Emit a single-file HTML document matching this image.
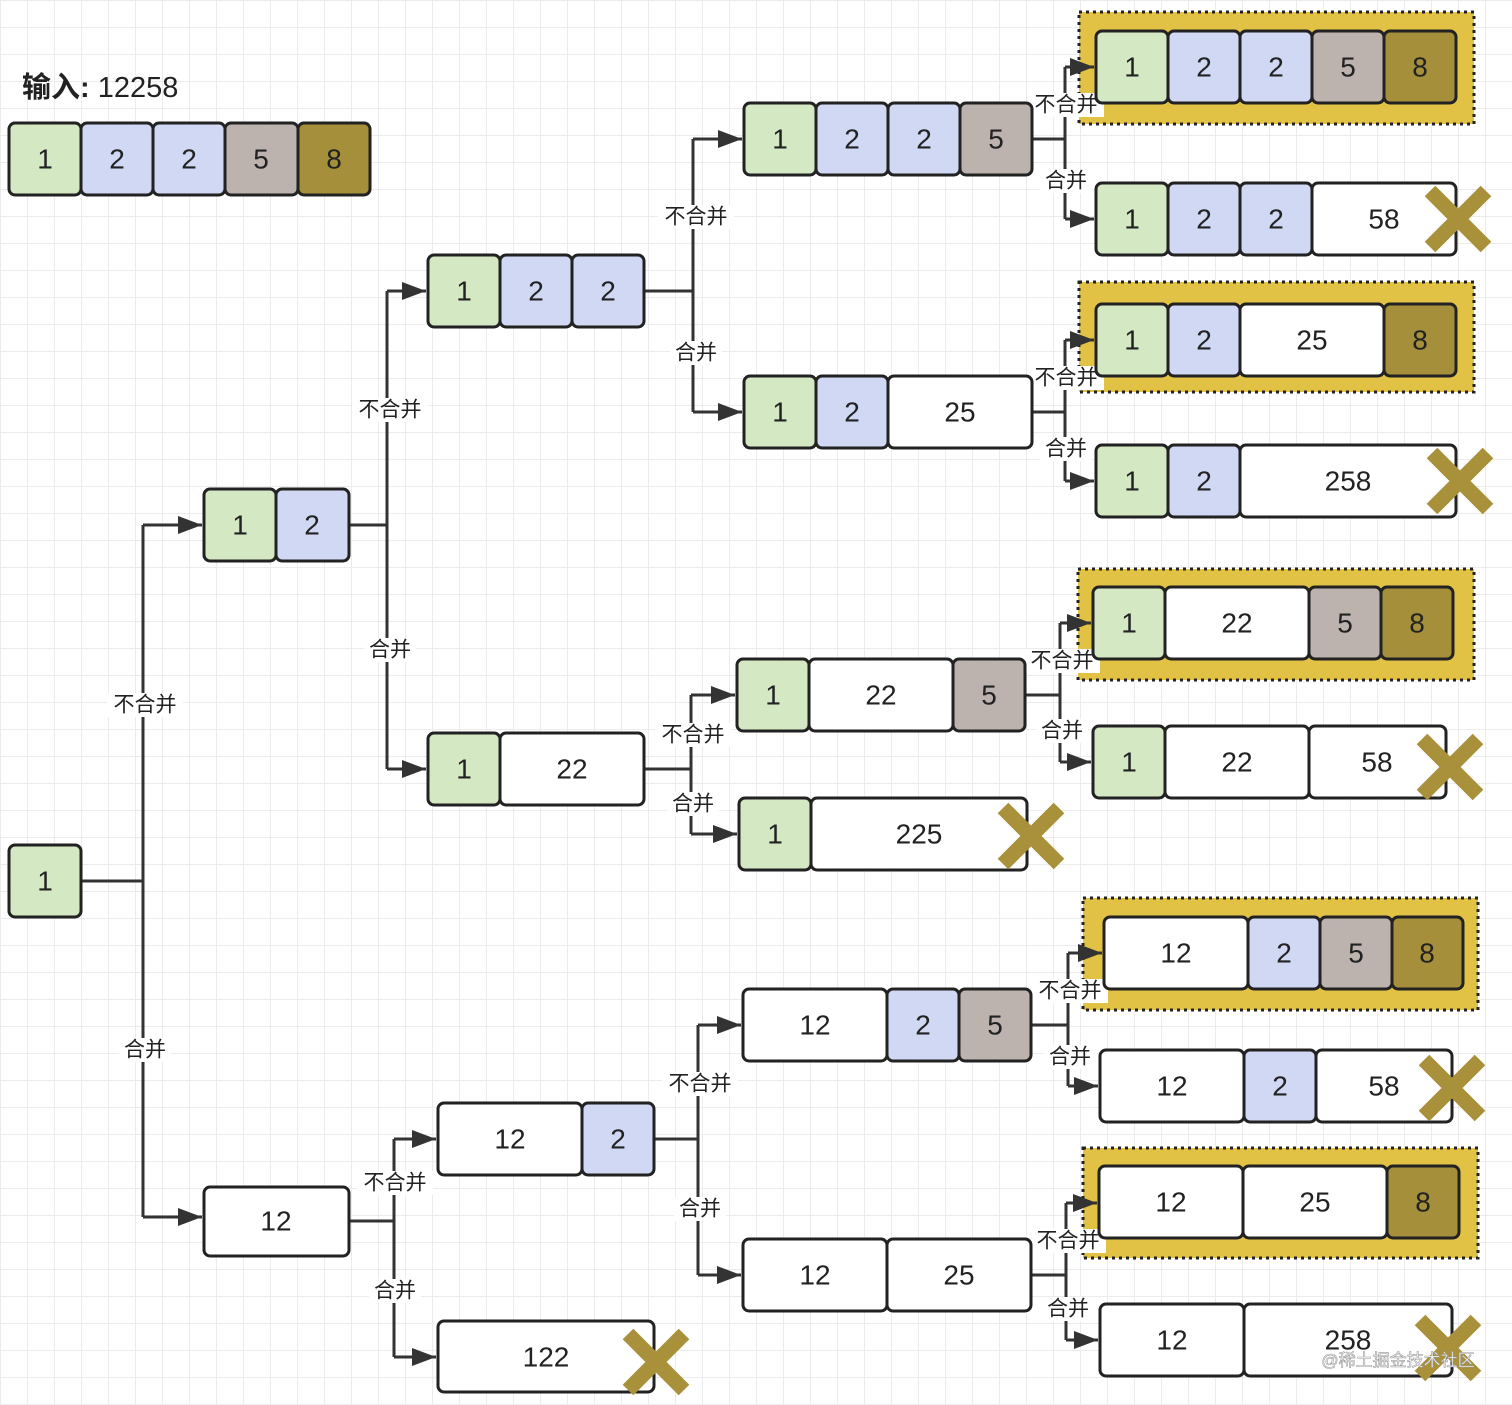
<!DOCTYPE html>
<html><head><meta charset="utf-8"><style>
html,body{margin:0;padding:0}
body{width:1512px;height:1405px;background-color:#fff;background-image:linear-gradient(#ececec 1px,transparent 1px),linear-gradient(90deg,#ececec 1px,transparent 1px);background-size:27px 27px;overflow:hidden}
svg{position:absolute;left:0;top:0}
.c{stroke:#222;stroke-width:3}
.g{fill:#d5e8c4}.b{fill:#d0d8f4}.s{fill:#bcb3ae}.o{fill:#a68f3a}.w{fill:#fff}
.n{font-family:"Liberation Sans",sans-serif;font-size:28px;fill:#222;text-anchor:middle;dominant-baseline:central}
.l{font-family:"Liberation Sans","Noto Sans CJK SC",sans-serif;font-size:21px;fill:#222;text-anchor:middle;dominant-baseline:central}
.lb{fill:#fff}
.e{fill:none;stroke:#333;stroke-width:3}
.x{stroke:#a8913a;stroke-width:15}
.h{fill:#e2c245;stroke:#222;stroke-width:3;stroke-dasharray:3 4}
</style></head><body>
<svg width="1512" height="1405" xmlns="http://www.w3.org/2000/svg">
<defs><marker id="a" markerWidth="8" markerHeight="8" refX="7" refY="4" orient="auto" markerUnits="userSpaceOnUse"><path d="M0,0 L8,4 L0,8z" fill="#333"/></marker>
<marker id="A" viewBox="0 0 10 10" markerWidth="24" markerHeight="18" refX="10" refY="5" orient="auto" markerUnits="userSpaceOnUse" preserveAspectRatio="none"><path d="M0,0 L10,5 L0,10z" fill="#333"/></marker></defs>

<!-- highlights -->
<rect class="h" x="1079" y="12" width="395" height="112"/>
<rect class="h" x="1079" y="282" width="395" height="110"/>
<rect class="h" x="1078" y="569" width="396" height="111"/>
<rect class="h" x="1083" y="898" width="395" height="112"/>
<rect class="h" x="1083" y="1148" width="395" height="110"/>

<!-- connectors -->
<g class="e">
<path d="M81,881H143M143,525V1217"/><path d="M143,525H202" marker-end="url(#A)"/><path d="M143,1217H202" marker-end="url(#A)"/>
<path d="M349,525H387M387,291V769"/><path d="M387,291H426" marker-end="url(#A)"/><path d="M387,769H426" marker-end="url(#A)"/>
<path d="M644,291H693M693,139V412"/><path d="M693,139H742" marker-end="url(#A)"/><path d="M693,412H742" marker-end="url(#A)"/>
<path d="M1032,139H1065M1065,67V219"/><path d="M1065,67H1094" marker-end="url(#A)"/><path d="M1065,219H1094" marker-end="url(#A)"/>
<path d="M1032,412H1065M1065,340V481"/><path d="M1065,340H1094" marker-end="url(#A)"/><path d="M1065,481H1094" marker-end="url(#A)"/>
<path d="M644,769H691M691,695V834"/><path d="M691,695H735" marker-end="url(#A)"/><path d="M691,834H737" marker-end="url(#A)"/>
<path d="M1025,695H1060M1060,623V762"/><path d="M1060,623H1091" marker-end="url(#A)"/><path d="M1060,762H1091" marker-end="url(#A)"/>
<path d="M349,1221H394M394,1139V1357"/><path d="M394,1139H436" marker-end="url(#A)"/><path d="M394,1357H436" marker-end="url(#A)"/>
<path d="M654,1139H698M698,1025V1275"/><path d="M698,1025H741" marker-end="url(#A)"/><path d="M698,1275H741" marker-end="url(#A)"/>
<path d="M1031,1025H1068M1068,953V1086"/><path d="M1068,953H1102" marker-end="url(#A)"/><path d="M1068,1086H1098" marker-end="url(#A)"/>
<path d="M1031,1275H1066M1066,1203V1340"/><path d="M1066,1203H1097" marker-end="url(#A)"/><path d="M1066,1340H1098" marker-end="url(#A)"/>
</g>

<!-- labels -->
<g>
<rect class="lb" x="107" y="693" width="76" height="24"/><text class="l" x="145" y="705">不合并</text>
<rect class="lb" x="119" y="1038" width="52" height="24"/><text class="l" x="145" y="1050">合并</text>
<rect class="lb" x="352" y="398" width="76" height="24"/><text class="l" x="390" y="410">不合并</text>
<rect class="lb" x="364" y="638" width="52" height="24"/><text class="l" x="390" y="650">合并</text>
<rect class="lb" x="658" y="205" width="76" height="24"/><text class="l" x="696" y="217">不合并</text>
<rect class="lb" x="670" y="341" width="52" height="24"/><text class="l" x="696" y="353">合并</text>
<rect class="lb" x="1028" y="93" width="76" height="24"/><text class="l" x="1066" y="105">不合并</text>
<rect class="lb" x="1040" y="169" width="52" height="24"/><text class="l" x="1066" y="181">合并</text>
<rect class="lb" x="1028" y="366" width="76" height="24"/><text class="l" x="1066" y="378">不合并</text>
<rect class="lb" x="1040" y="437" width="52" height="24"/><text class="l" x="1066" y="449">合并</text>
<rect class="lb" x="655" y="723" width="76" height="24"/><text class="l" x="693" y="735">不合并</text>
<rect class="lb" x="667" y="792" width="52" height="24"/><text class="l" x="693" y="804">合并</text>
<rect class="lb" x="1024" y="649" width="76" height="24"/><text class="l" x="1062" y="661">不合并</text>
<rect class="lb" x="1036" y="719" width="52" height="24"/><text class="l" x="1062" y="731">合并</text>
<rect class="lb" x="357" y="1171" width="76" height="24"/><text class="l" x="395" y="1183">不合并</text>
<rect class="lb" x="369" y="1279" width="52" height="24"/><text class="l" x="395" y="1291">合并</text>
<rect class="lb" x="662" y="1072" width="76" height="24"/><text class="l" x="700" y="1084">不合并</text>
<rect class="lb" x="674" y="1197" width="52" height="24"/><text class="l" x="700" y="1209">合并</text>
<rect class="lb" x="1032" y="979" width="76" height="24"/><text class="l" x="1070" y="991">不合并</text>
<rect class="lb" x="1044" y="1045" width="52" height="24"/><text class="l" x="1070" y="1057">合并</text>
<rect class="lb" x="1030" y="1229" width="76" height="24"/><text class="l" x="1068" y="1241">不合并</text>
<rect class="lb" x="1042" y="1297" width="52" height="24"/><text class="l" x="1068" y="1309">合并</text>
</g>

<text x="22" y="97" style="font-family:'Liberation Sans','Noto Sans CJK SC',sans-serif;font-size:29px;fill:#222;font-weight:bold">输入: <tspan font-weight="normal">12258</tspan></text>

<!-- cells -->
<g class="c">
<rect class="g" x="9" y="123" width="72" height="72" rx="6"/><rect class="b" x="81" y="123" width="72" height="72" rx="6"/><rect class="b" x="153" y="123" width="72" height="72" rx="6"/><rect class="s" x="225" y="123" width="73" height="72" rx="6"/><rect class="o" x="298" y="123" width="72" height="72" rx="6"/>
<rect class="g" x="9" y="845" width="72" height="72" rx="6"/>
<rect class="g" x="204" y="489" width="72" height="72" rx="6"/><rect class="b" x="276" y="489" width="73" height="72" rx="6"/>
<rect class="g" x="428" y="255" width="72" height="72" rx="6"/><rect class="b" x="500" y="255" width="72" height="72" rx="6"/><rect class="b" x="572" y="255" width="72" height="72" rx="6"/>
<rect class="g" x="744" y="103" width="72" height="72" rx="6"/><rect class="b" x="816" y="103" width="72" height="72" rx="6"/><rect class="b" x="888" y="103" width="72" height="72" rx="6"/><rect class="s" x="960" y="103" width="72" height="72" rx="6"/>
<rect class="g" x="1096" y="31" width="72" height="72" rx="6"/><rect class="b" x="1168" y="31" width="72" height="72" rx="6"/><rect class="b" x="1240" y="31" width="72" height="72" rx="6"/><rect class="s" x="1312" y="31" width="72" height="72" rx="6"/><rect class="o" x="1384" y="31" width="72" height="72" rx="6"/>
<rect class="g" x="1096" y="183" width="72" height="72" rx="6"/><rect class="b" x="1168" y="183" width="72" height="72" rx="6"/><rect class="b" x="1240" y="183" width="72" height="72" rx="6"/><rect class="w" x="1312" y="183" width="144" height="72" rx="6"/>
<rect class="g" x="744" y="376" width="72" height="72" rx="6"/><rect class="b" x="816" y="376" width="72" height="72" rx="6"/><rect class="w" x="888" y="376" width="144" height="72" rx="6"/>
<rect class="g" x="1096" y="304" width="72" height="72" rx="6"/><rect class="b" x="1168" y="304" width="72" height="72" rx="6"/><rect class="w" x="1240" y="304" width="144" height="72" rx="6"/><rect class="o" x="1384" y="304" width="72" height="72" rx="6"/>
<rect class="g" x="1096" y="445" width="72" height="72" rx="6"/><rect class="b" x="1168" y="445" width="72" height="72" rx="6"/><rect class="w" x="1240" y="445" width="216" height="72" rx="6"/>
<rect class="g" x="428" y="733" width="72" height="72" rx="6"/><rect class="w" x="500" y="733" width="144" height="72" rx="6"/>
<rect class="g" x="737" y="659" width="72" height="72" rx="6"/><rect class="w" x="809" y="659" width="144" height="72" rx="6"/><rect class="s" x="953" y="659" width="72" height="72" rx="6"/>
<rect class="g" x="1093" y="587" width="72" height="72" rx="6"/><rect class="w" x="1165" y="587" width="144" height="72" rx="6"/><rect class="s" x="1309" y="587" width="72" height="72" rx="6"/><rect class="o" x="1381" y="587" width="72" height="72" rx="6"/>
<rect class="g" x="1093" y="726" width="72" height="72" rx="6"/><rect class="w" x="1165" y="726" width="144" height="72" rx="6"/><rect class="w" x="1309" y="726" width="137" height="72" rx="6"/>
<rect class="g" x="739" y="798" width="72" height="72" rx="6"/><rect class="w" x="811" y="798" width="216" height="72" rx="6"/>
<rect class="w" x="204" y="1187" width="145" height="69" rx="6"/>
<rect class="w" x="438" y="1103" width="144" height="72" rx="6"/><rect class="b" x="582" y="1103" width="72" height="72" rx="6"/>
<rect class="w" x="438" y="1321" width="216" height="71" rx="6"/>
<rect class="w" x="743" y="989" width="144" height="72" rx="6"/><rect class="b" x="887" y="989" width="72" height="72" rx="6"/><rect class="s" x="959" y="989" width="72" height="72" rx="6"/>
<rect class="w" x="1104" y="917" width="144" height="72" rx="6"/><rect class="b" x="1248" y="917" width="72" height="72" rx="6"/><rect class="s" x="1320" y="917" width="72" height="72" rx="6"/><rect class="o" x="1392" y="917" width="71" height="72" rx="6"/>
<rect class="w" x="1100" y="1050" width="144" height="72" rx="6"/><rect class="b" x="1244" y="1050" width="72" height="72" rx="6"/><rect class="w" x="1316" y="1050" width="136" height="72" rx="6"/>
<rect class="w" x="743" y="1239" width="144" height="72" rx="6"/><rect class="w" x="887" y="1239" width="144" height="72" rx="6"/>
<rect class="w" x="1099" y="1166" width="144" height="72" rx="6"/><rect class="w" x="1243" y="1166" width="144" height="72" rx="6"/><rect class="o" x="1387" y="1166" width="72" height="72" rx="6"/>
<rect class="w" x="1100" y="1304" width="144" height="72" rx="6"/><rect class="w" x="1244" y="1304" width="208" height="72" rx="6"/>
</g>

<!-- numbers -->
<g class="n">
<text class="n" x="45" y="159">1</text><text class="n" x="117" y="159">2</text><text class="n" x="189" y="159">2</text><text class="n" x="261" y="159">5</text><text class="n" x="334" y="159">8</text>
<text class="n" x="45" y="881">1</text>
<text class="n" x="240" y="525">1</text><text class="n" x="312" y="525">2</text>
<text class="n" x="464" y="291">1</text><text class="n" x="536" y="291">2</text><text class="n" x="608" y="291">2</text>
<text class="n" x="780" y="139">1</text><text class="n" x="852" y="139">2</text><text class="n" x="924" y="139">2</text><text class="n" x="996" y="139">5</text>
<text class="n" x="1132" y="67">1</text><text class="n" x="1204" y="67">2</text><text class="n" x="1276" y="67">2</text><text class="n" x="1348" y="67">5</text><text class="n" x="1420" y="67">8</text>
<text class="n" x="1132" y="219">1</text><text class="n" x="1204" y="219">2</text><text class="n" x="1276" y="219">2</text><text class="n" x="1384" y="219">58</text>
<text class="n" x="780" y="412">1</text><text class="n" x="852" y="412">2</text><text class="n" x="960" y="412">25</text>
<text class="n" x="1132" y="340">1</text><text class="n" x="1204" y="340">2</text><text class="n" x="1312" y="340">25</text><text class="n" x="1420" y="340">8</text>
<text class="n" x="1132" y="481">1</text><text class="n" x="1204" y="481">2</text><text class="n" x="1348" y="481">258</text>
<text class="n" x="464" y="769">1</text><text class="n" x="572" y="769">22</text>
<text class="n" x="773" y="695">1</text><text class="n" x="881" y="695">22</text><text class="n" x="989" y="695">5</text>
<text class="n" x="1129" y="623">1</text><text class="n" x="1237" y="623">22</text><text class="n" x="1345" y="623">5</text><text class="n" x="1417" y="623">8</text>
<text class="n" x="1129" y="762">1</text><text class="n" x="1237" y="762">22</text><text class="n" x="1377" y="762">58</text>
<text class="n" x="775" y="834">1</text><text class="n" x="919" y="834">225</text>
<text class="n" x="276" y="1221">12</text>
<text class="n" x="510" y="1139">12</text><text class="n" x="618" y="1139">2</text>
<text class="n" x="546" y="1357">122</text>
<text class="n" x="815" y="1025">12</text><text class="n" x="923" y="1025">2</text><text class="n" x="995" y="1025">5</text>
<text class="n" x="1176" y="953">12</text><text class="n" x="1284" y="953">2</text><text class="n" x="1356" y="953">5</text><text class="n" x="1427" y="953">8</text>
<text class="n" x="1172" y="1086">12</text><text class="n" x="1280" y="1086">2</text><text class="n" x="1384" y="1086">58</text>
<text class="n" x="815" y="1275">12</text><text class="n" x="959" y="1275">25</text>
<text class="n" x="1171" y="1202">12</text><text class="n" x="1315" y="1202">25</text><text class="n" x="1423" y="1202">8</text>
<text class="n" x="1172" y="1340">12</text><text class="n" x="1348" y="1340">258</text>
</g>

<!-- X marks -->
<g class="x">
<path d="M1430,191L1486,247M1486,191L1430,247"/>
<path d="M1432,453L1488,509M1488,453L1432,509"/>
<path d="M1422,739L1478,795M1478,739L1422,795"/>
<path d="M1003,808L1059,864M1059,808L1003,864"/>
<path d="M628,1334L684,1390M684,1334L628,1390"/>
<path d="M1424,1060L1480,1116M1480,1060L1424,1116"/>
<path d="M1420,1320L1476,1376M1476,1320L1420,1376"/>
</g>
<text x="1398" y="1366" style="font-family:'Liberation Sans','Noto Sans CJK SC',sans-serif;font-size:17px;fill:#fff;stroke:#999;stroke-width:0.6;text-anchor:middle">@稀土掘金技术社区</text>
</svg>
</body></html>
